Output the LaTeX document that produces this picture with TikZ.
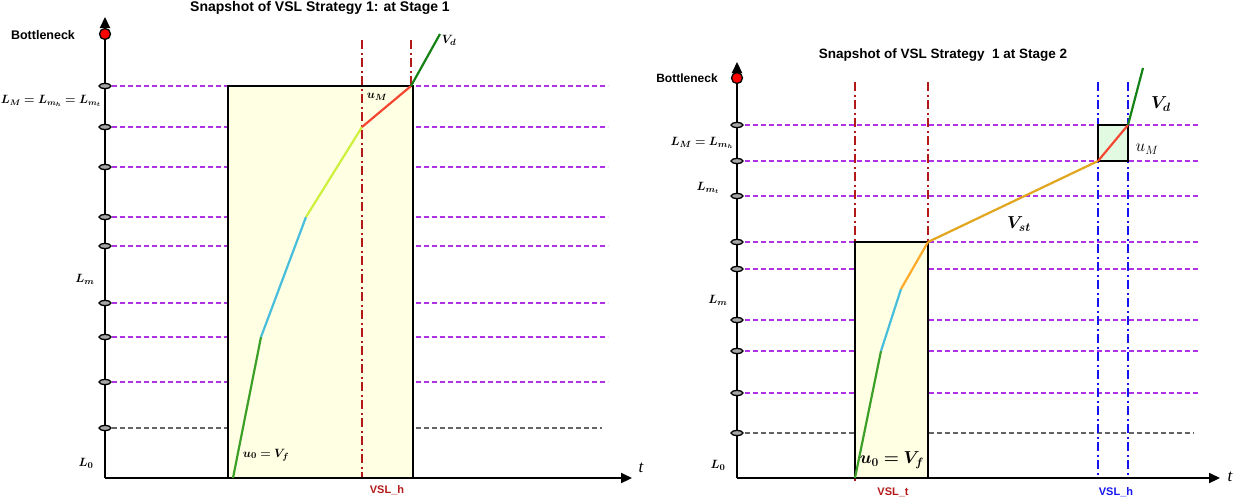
\documentclass[tikz,border=0pt]{standalone}
\usepackage{fontspec}
\usepackage{bm}
\setmainfont{Liberation Serif}
\newfontfamily\arialf{Liberation Sans}
\usetikzlibrary{arrows.meta,shapes.geometric}
\definecolor{gridv}{RGB}{175,50,230}
\definecolor{gridg}{RGB}{100,100,100}
\definecolor{vslred}{RGB}{180,25,25}
\definecolor{vslblue}{RGB}{20,20,240}
\definecolor{boxyel}{RGB}{255,255,228}
\definecolor{boxgrn}{RGB}{225,250,225}
\definecolor{tgreen}{RGB}{60,160,40}
\definecolor{tcyan}{RGB}{70,190,220}
\definecolor{tlime}{RGB}{205,240,60}
\definecolor{tred}{RGB}{245,70,50}
\definecolor{tdgreen}{RGB}{20,130,20}
\definecolor{torange}{RGB}{255,170,40}
\definecolor{tgold}{RGB}{225,165,30}
\tikzset{
  axisline/.style={line width=2.2pt,black,-{Triangle[length=11pt,width=10pt]}},
  tickmark/.style={draw=black,fill=gray!70,ellipse,line width=1.3pt,minimum width=12pt,minimum height=5pt,inner sep=0pt},
  gridline/.style={gridv,line width=1.2pt,dash pattern=on 5pt off 3pt},
  grayline/.style={gridg,line width=1.2pt,dash pattern=on 5pt off 3pt},
  vslr/.style={vslred,line width=2pt,dash pattern=on 9pt off 3.5pt on 2pt off 3.5pt},
  vslb/.style={vslblue,line width=2pt,dash pattern=on 9pt off 3.5pt on 2pt off 3.5pt},
  zonebox/.style={draw=black,line width=2.2pt},
  traj/.style={line width=2.2pt},
  bneck/.style={circle,draw=black,fill=red,line width=1.3pt,minimum size=11pt,inner sep=0pt},
  sanslab/.style={font=\arialf\bfseries\fontsize{11}{12}\selectfont,inner sep=0pt},
  titlelab/.style={font=\arialf\bfseries\fontsize{14}{15}\selectfont,inner sep=0pt},
  mathlab/.style={font=\fontsize{13}{14}\selectfont,inner sep=0pt},
  biglab/.style={font=\fontsize{17}{18}\selectfont,inner sep=0pt},
}
\begin{document}
\begin{tikzpicture}[x=1pt,y=-1pt]
\useasboundingbox (0,0) rectangle (1234,499);
% ================= LEFT PANEL =================
\node[titlelab] (t1) at (320,7.5) {Snapshot of VSL Strategy 1: at Stage 1};
% grid lines
\foreach \yy/\nm in {86/a,127/b,167/c,217/d,246/e,303/f,337/g,382/h}{
  \coordinate (lgs\nm) at (112,\yy); \coordinate (lge\nm) at (608,\yy);
  \draw[gridline] (lgs\nm) -- (lge\nm);}
\coordinate (lgsi) at (112,428); \coordinate (lgei) at (602,428);
\draw[grayline] (lgsi) -- (lgei);
% box
\coordinate (lb1) at (228,86); \coordinate (lb2) at (413,478);
\fill[boxyel] (lb1) rectangle (lb2);
% vsl lines
\coordinate (lv1a) at (362,40); \coordinate (lv1b) at (362,478);
\coordinate (lv2a) at (411,40); \coordinate (lv2b) at (411,86);
\draw[vslr] (lv1a) -- (lv1b);
\draw[vslr] (lv2a) -- (lv2b);
\draw[zonebox] (lb1) rectangle (lb2);
% axes
\coordinate (lo) at (105,478); \coordinate (ltop) at (105,17); \coordinate (lright) at (632,478);
\draw[axisline] (lo) -- (ltop);
\draw[axisline] (lo) -- (lright);
\node[bneck] (lbn) at (105,34) {};
\foreach \yy/\nm in {86/a,127/b,167/c,217/d,246/e,303/f,337/g,382/h,428/i}{
  \node[tickmark] (ltk\nm) at (105,\yy) {};}
% trajectory
\coordinate (lp0) at (233,478); \coordinate (lp1) at (261,337); \coordinate (lp2) at (306,217);
\coordinate (lp3) at (362,127); \coordinate (lp4) at (411,86); \coordinate (lp5) at (440,34);
\draw[traj,tgreen] (lp0) -- (lp1);
\draw[traj,tcyan] (lp1) -- (lp2);
\draw[traj,tlime] (lp2) -- (lp3);
\draw[traj,tred] (lp3) -- (lp4);
\draw[traj,tdgreen] (lp4) -- (lp5);
% labels
\node[sanslab,font=\arialf\bfseries\fontsize{12.5}{13}\selectfont] (lbl) at (43,35) {Bottleneck};
\node[mathlab,font=\fontsize{11.5}{13}\selectfont] (llm) at (51,101) {$\bm{L_M = L_{m_h} = L_{m_t}}$};
\node[mathlab] (llmm) at (85,279) {$\bm{L_m}$};
\node[mathlab] (ll0) at (86,463) {$\bm{L_0}$};
\node[mathlab] (lvd) at (449,40) {$\bm{V_d}$};
\node[mathlab] (lum) at (377,97) {$\bm{u_M}$};
\node[mathlab] (lu0) at (266,455) {$\bm{u_0 = V_f}$};
\node[mathlab,font=\itshape\fontsize{17}{18}\selectfont] (lt) at (641,468) {t};
\node[sanslab,text=vslred] (lvh) at (387,490) {VSL\_h};
% ================= RIGHT PANEL =================
\node[titlelab,font=\arialf\bfseries\fontsize{13.5}{14}\selectfont] (t2) at (943,55) {Snapshot of VSL Strategy~~1 at Stage 2};
\foreach \yy/\nm in {125/a,161/b,196/c,242/d,269/e,320/f,351/g,393/h}{
  \coordinate (rgs\nm) at (745,\yy); \coordinate (rge\nm) at (1199,\yy);
  \draw[gridline] (rgs\nm) -- (rge\nm);}
\coordinate (rgsi) at (745,433); \coordinate (rgei) at (1194,433);
\draw[grayline] (rgsi) -- (rgei);
% boxes
\coordinate (rb1) at (855,242); \coordinate (rb2) at (928,478);
\fill[boxyel] (rb1) rectangle (rb2);
\coordinate (rc1) at (1098,125); \coordinate (rc2) at (1128,161);
\fill[boxgrn] (rc1) rectangle (rc2);
% vsl lines
\coordinate (rv1a) at (855,82); \coordinate (rv1b) at (855,481);
\coordinate (rv2a) at (928,82); \coordinate (rv2b) at (928,242);
\coordinate (rv3a) at (1098,82); \coordinate (rv3b) at (1098,478);
\coordinate (rv4a) at (1128,82); \coordinate (rv4b) at (1128,478);
\draw[vslr] (rv1a) -- (rv1b);
\draw[vslr] (rv2a) -- (rv2b);
\draw[vslb] (rv3a) -- (rv3b);
\draw[vslb] (rv4a) -- (rv4b);
\draw[zonebox] (rb1) rectangle (rb2);
\draw[zonebox] (rc1) rectangle (rc2);
% axes
\coordinate (ro) at (737,478); \coordinate (rtop) at (737,62); \coordinate (rright) at (1220,478);
\draw[axisline] (ro) -- (rtop);
\draw[axisline] (ro) -- (rright);
\node[bneck] (rbn) at (737,78) {};
\foreach \yy/\nm in {125/a,161/b,196/c,242/d,269/e,320/f,351/g,393/h,433/i}{
  \node[tickmark] (rtk\nm) at (737,\yy) {};}
% trajectory
\coordinate (rp0) at (855,478); \coordinate (rp1) at (881,351); \coordinate (rp2) at (901,289);
\coordinate (rp3) at (928,242); \coordinate (rp4) at (1098,161); \coordinate (rp5) at (1128,125);
\coordinate (rp6) at (1143,68);
\draw[traj,tgreen] (rp0) -- (rp1);
\draw[traj,tcyan] (rp1) -- (rp2);
\draw[traj,torange] (rp2) -- (rp3);
\draw[traj,tgold] (rp3) -- (rp4);
\draw[traj,tred] (rp4) -- (rp5);
\draw[traj,tdgreen] (rp5) -- (rp6);
% labels
\node[sanslab,font=\arialf\bfseries\fontsize{12}{13}\selectfont] (rbl) at (687,78) {Bottleneck};
\node[mathlab] (rlm) at (702,143) {$\bm{L_M = L_{m_h}}$};
\node[mathlab] (rlmt) at (708,188) {$\bm{L_{m_t}}$};
\node[mathlab] (rlmm) at (718,300) {$\bm{L_m}$};
\node[mathlab] (rl0) at (718,465) {$\bm{L_0}$};
\node[biglab] (rvst) at (1019,224) {$\bm{V_{st}}$};
\node[biglab] (rum) at (1147,149) {$u_M$};
\node[biglab] (rvd) at (1161,104) {$\bm{V_d}$};
\node[biglab] (ru0) at (892,460) {$\bm{u_0 = V_f}$};
\node[mathlab,font=\itshape\fontsize{17}{18}\selectfont] (rt) at (1230,477) {t};
\node[sanslab] (rvt) at (893,492) {\textcolor{vslred}{VSL\_t}};
\node[sanslab] (rvh) at (1116,492) {\textcolor{vslblue}{VSL\_h}};
\end{tikzpicture}
\end{document}
